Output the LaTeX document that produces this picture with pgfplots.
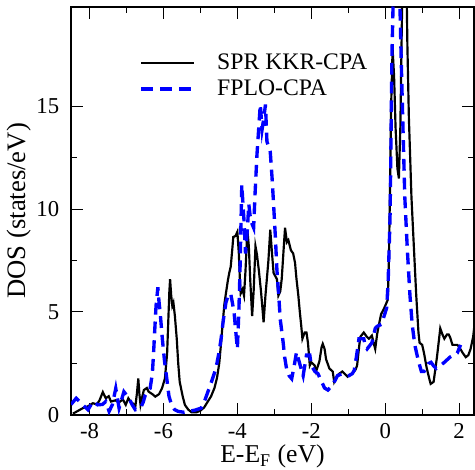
\documentclass[border=0pt]{standalone}
\usepackage{fontspec}
\setmainfont{Liberation Serif}
\usepackage{pgfplots}
\pgfplotsset{compat=1.18}

% SPR KKR-CPA
\pgfplotstableread{
x y
-8.45 0.05
-8.30 0.20
-8.18 0.32
-8.05 0.40
-7.91 0.56
-7.80 0.50
-7.73 0.70
-7.64 1.10
-7.56 0.80
-7.48 0.90
-7.42 0.64
-7.30 0.70
-7.20 0.60
-7.10 0.75
-7.02 0.48
-6.95 0.80
-6.89 0.64
-6.80 0.50
-6.76 0.40
-6.72 1.00
-6.68 1.76
-6.65 1.00
-6.62 0.48
-6.57 0.90
-6.53 1.20
-6.45 1.30
-6.40 1.12
-6.30 1.00
-6.22 0.88
-6.12 1.00
-6.04 1.28
-5.96 1.76
-5.90 3.00
-5.87 4.50
-5.84 6.00
-5.82 6.60
-5.79 5.80
-5.76 5.30
-5.73 5.45
-5.69 4.80
-5.64 3.70
-5.60 2.50
-5.56 1.60
-5.48 0.90
-5.42 0.48
-5.33 0.25
-5.24 0.12
-5.10 0.12
-5.00 0.20
-4.90 0.35
-4.80 0.64
-4.71 0.90
-4.62 1.30
-4.55 1.80
-4.49 2.50
-4.44 3.50
-4.40 4.40
-4.35 5.40
-4.31 5.90
-4.26 6.50
-4.22 6.90
-4.18 7.20
-4.14 8.00
-4.11 8.65
-4.05 8.70
-4.00 8.90
-3.96 7.85
-3.93 6.50
-3.91 5.90
-3.86 6.10
-3.82 5.80
-3.78 7.00
-3.73 9.00
-3.69 8.20
-3.65 6.50
-3.60 4.80
-3.56 6.00
-3.51 8.20
-3.47 7.80
-3.42 7.05
-3.36 6.00
-3.29 4.50
-3.24 5.80
-3.16 7.50
-3.11 9.00
-3.06 7.80
-3.02 6.90
-2.93 6.60
-2.89 5.80
-2.84 6.00
-2.80 6.60
-2.75 8.00
-2.71 9.10
-2.66 8.40
-2.62 8.50
-2.55 8.00
-2.49 7.85
-2.44 7.40
-2.40 6.60
-2.35 5.80
-2.31 5.00
-2.27 4.30
-2.24 3.70
-2.18 4.00
-2.13 4.00
-2.09 3.50
-2.04 2.40
-2.00 2.55
-1.91 2.40
-1.87 2.10
-1.78 2.60
-1.72 3.30
-1.69 3.45
-1.64 3.20
-1.60 2.70
-1.51 2.25
-1.42 2.10
-1.38 1.60
-1.30 1.90
-1.24 2.00
-1.16 2.10
-1.10 2.00
-1.02 1.85
-0.95 1.95
-0.89 2.00
-0.80 2.20
-0.76 2.40
-0.70 3.40
-0.67 3.80
-0.58 4.00
-0.50 3.80
-0.44 3.70
-0.36 3.85
-0.30 3.40
-0.27 3.20
-0.22 3.90
-0.18 4.30
-0.11 4.90
-0.05 5.10
0.00 5.30
0.07 5.60
0.10 7.50
0.13 11.0
0.16 15.0
0.20 17.8
0.24 16.5
0.28 14.0
0.33 12.0
0.37 11.5
0.41 14.0
0.45 19.0
0.49 24.0
0.53 26.0
0.57 22.0
0.60 18.0
0.64 14.5
0.71 10.6
0.78 8.00
0.84 5.80
0.90 4.00
0.93 3.50
1.00 3.40
1.05 3.00
1.12 2.30
1.20 1.70
1.23 1.50
1.31 1.60
1.40 2.80
1.49 4.20
1.55 3.90
1.60 3.70
1.67 3.90
1.72 3.90
1.76 3.75
1.82 3.40
1.87 3.40
1.95 3.40
2.00 3.30
2.10 3.00
2.18 2.80
2.25 2.90
2.31 3.20
2.38 3.80
2.43 4.60
2.50 5.50
}\kkr

% FPLO-CPA
\pgfplotstableread{
x y
-8.50 0.50
-8.36 0.80
-8.25 0.60
-8.18 0.48
-8.04 0.24
-7.91 0.64
-7.78 0.48
-7.65 0.50
-7.56 0.64
-7.47 0.16
-7.38 0.50
-7.29 1.28
-7.20 0.32
-7.07 1.12
-6.93 0.80
-6.85 0.50
-6.76 0.24
-6.62 0.32
-6.55 0.60
-6.49 0.96
-6.36 1.28
-6.30 2.00
-6.27 2.90
-6.23 4.30
-6.20 5.30
-6.15 6.20
-6.12 5.50
-6.09 5.00
-6.03 3.70
-5.97 2.60
-5.91 1.76
-5.85 0.90
-5.78 0.48
-5.70 0.25
-5.60 0.16
-5.45 0.12
-5.33 0.16
-5.15 0.22
-4.98 0.32
-4.90 0.60
-4.80 1.10
-4.70 1.60
-4.58 2.25
-4.50 3.00
-4.44 3.70
-4.38 4.60
-4.31 5.45
-4.25 5.80
-4.18 5.90
-4.09 5.00
-4.04 4.00
-4.00 3.20
-3.96 5.00
-3.93 6.90
-3.90 9.50
-3.88 11.2
-3.85 10.3
-3.82 9.45
-3.78 7.85
-3.73 9.00
-3.69 10.25
-3.64 9.45
-3.56 9.10
-3.52 10.8
-3.47 12.65
-3.42 14.0
-3.38 15.1
-3.33 13.9
-3.28 14.5
-3.24 15.1
-3.20 13.3
-3.11 12.8
-3.06 11.5
-3.02 10.25
-2.97 8.60
-2.93 7.05
-2.88 5.80
-2.84 4.65
-2.76 3.50
-2.72 2.80
-2.67 2.25
-2.60 1.90
-2.53 1.75
-2.46 2.40
-2.40 3.05
-2.30 2.40
-2.22 1.90
-2.13 2.90
-2.04 2.90
-2.00 2.40
-1.90 2.10
-1.82 2.00
-1.72 1.60
-1.64 1.30
-1.55 1.20
-1.42 1.45
-1.29 1.90
-1.16 2.00
-1.07 1.90
-0.98 1.90
-0.89 2.00
-0.84 2.15
-0.78 2.80
-0.71 3.70
-0.58 3.70
-0.53 3.30
-0.49 3.20
-0.36 3.50
-0.27 4.20
-0.22 4.30
-0.10 4.40
0.04 5.20
0.08 6.50
0.13 9.50
0.15 12.2
0.18 17.3
0.22 20.5
0.26 24.0
0.31 25.0
0.36 23.0
0.40 19.8
0.43 17.5
0.46 15.4
0.53 10.6
0.60 8.00
0.67 5.80
0.73 4.40
0.80 3.40
0.90 2.60
0.98 2.10
1.05 2.10
1.11 2.25
1.18 2.50
1.24 2.55
1.30 2.40
1.38 2.25
1.50 2.40
1.60 2.55
1.75 2.80
1.95 3.00
2.04 3.40
}\fplo

\begin{document}
\begin{tikzpicture}
\begin{axis}[
    name=ax,
    scale only axis,
    width=204pt, height=206.5pt,
    xmin=-8.5, xmax=2.4,
    ymin=0, ymax=19.85,
    xtick={-8,-6,-4,-2,0,2},
    xticklabels={-8,-6,-4,-2,0,2},
    ytick={0,5,10,15},
    yticklabels={0,5,10,15},
    minor x tick num=1,
    minor y tick num=1,
    tick align=inside,
    tick pos=both,
    major tick length=6pt,
    minor tick length=3pt,
    axis line style={line width=1.1pt},
    every tick/.style={black, line width=0.5pt},
    tick label style={font=\fontsize{11.5}{13}\selectfont},
    yticklabel style={xshift=-2.5pt},
    xticklabel style={inner sep=0.5pt, yshift=-3.6pt},
    xlabel={E-E\textsubscript{F} (eV)},
    ylabel={DOS (states/eV)},
    every axis x label/.style={at={(axis description cs:0.5,-0.118)}, anchor=base,
        inner sep=0.5pt, font=\fontsize{13}{15}\selectfont},
    every axis y label/.style={at={(axis description cs:-0.13,0.5)}, rotate=90, anchor=center,
        font=\fontsize{13.5}{16}\selectfont},
    legend style={at={(axis description cs:0.155,0.905)}, anchor=north west,
        draw=none, fill=none, font=\fontsize{12}{14}\selectfont,
        row sep=-0.5pt, column sep=9pt},
    legend cell align=left,
    legend image code/.code={\draw[#1] (0pt,0pt) -- (26.5pt,0pt);},
]
\addplot[black, line width=1.1pt, no marks] table {\kkr};
\addlegendentry{SPR KKR-CPA}
\addplot[blue, line width=1.7pt, dash pattern=on 6pt off 3.5pt, no marks] table {\fplo};
\addlegendentry{FPLO-CPA}
\end{axis}
\path (ax.north) ++(0,3.5pt);
\end{tikzpicture}
\end{document}
